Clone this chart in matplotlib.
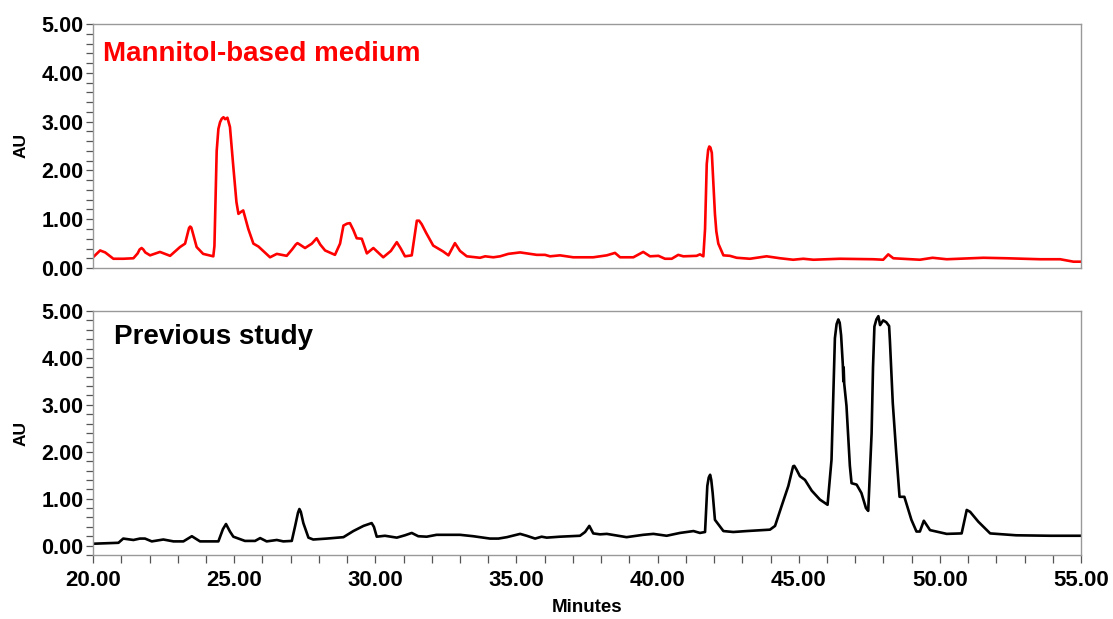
import matplotlib
matplotlib.use('Agg')
import matplotlib.pyplot as plt
from matplotlib.ticker import MultipleLocator, FormatStrFormatter

plt.rcParams['font.family'] = ['Liberation Sans', 'DejaVu Sans']
plt.rcParams['font.weight'] = 'bold'

# 甘露醇培养基 (上图, 红线)
t_mannitol = [20.00, 20.07, 20.25, 20.43, 20.72, 21.07, 21.43, 21.58, 21.65, 21.72,
              21.78, 21.85, 22.02, 22.37, 22.73, 23.08, 23.26, 23.35, 23.40, 23.44,
              23.48, 23.52, 23.67, 23.90, 24.26, 24.30, 24.35, 24.38, 24.44, 24.50,
              24.56, 24.62, 24.68, 24.76, 24.85, 24.97, 25.08, 25.15, 25.24, 25.32,
              25.50, 25.68, 25.86, 26.27, 26.51, 26.86, 27.05, 27.18, 27.24, 27.30,
              27.51, 27.75, 27.92, 28.05, 28.22, 28.57, 28.75, 28.87, 29.00, 29.10,
              29.22, 29.34, 29.52, 29.70, 29.93, 30.28, 30.55, 30.76, 30.90, 31.05,
              31.29, 31.40, 31.47, 31.55, 31.64, 31.80, 32.05, 32.40, 32.59, 32.82,
              33.00, 33.24, 33.71, 33.89, 34.18, 34.42, 34.71, 35.13, 35.72, 36.01,
              36.19, 36.54, 37.01, 37.72, 38.20, 38.49, 38.67, 39.14, 39.49, 39.73,
              40.03, 40.26, 40.50, 40.73, 40.91, 41.38, 41.50, 41.62, 41.68, 41.74,
              41.79, 41.83, 41.87, 41.92, 41.97, 42.03, 42.08, 42.15, 42.33, 42.56,
              42.80, 43.27, 43.86, 44.34, 44.80, 45.16, 45.52, 46.46, 47.64, 47.99,
              48.17, 48.35, 49.29, 49.74, 50.24, 51.54, 52.37, 53.55, 54.26, 54.73,
              55.00]
au_mannitol = [0.22, 0.26, 0.36, 0.32, 0.19, 0.19, 0.20, 0.30, 0.38, 0.41,
               0.38, 0.32, 0.26, 0.33, 0.25, 0.43, 0.50, 0.70, 0.82, 0.85,
               0.83, 0.75, 0.43, 0.29, 0.24, 0.45, 1.70, 2.40, 2.85, 2.99,
               3.06, 3.09, 3.05, 3.08, 2.89, 2.07, 1.35, 1.11, 1.15, 1.18,
               0.80, 0.50, 0.44, 0.22, 0.29, 0.25, 0.38, 0.48, 0.51, 0.49,
               0.41, 0.50, 0.61, 0.48, 0.36, 0.27, 0.50, 0.87, 0.91, 0.92,
               0.78, 0.61, 0.60, 0.30, 0.41, 0.22, 0.35, 0.53, 0.40, 0.24,
               0.26, 0.70, 0.97, 0.97, 0.90, 0.72, 0.46, 0.34, 0.26, 0.51,
               0.35, 0.24, 0.21, 0.24, 0.22, 0.24, 0.29, 0.32, 0.27, 0.27,
               0.24, 0.26, 0.22, 0.22, 0.26, 0.31, 0.22, 0.22, 0.33, 0.24,
               0.25, 0.19, 0.19, 0.27, 0.24, 0.25, 0.28, 0.24, 0.80, 2.13,
               2.42, 2.49, 2.47, 2.36, 1.80, 1.11, 0.75, 0.50, 0.26, 0.25,
               0.21, 0.19, 0.24, 0.20, 0.17, 0.19, 0.17, 0.19, 0.18, 0.17,
               0.28, 0.20, 0.17, 0.21, 0.18, 0.21, 0.20, 0.18, 0.18, 0.13,
               0.13]

# 以往研究 (下图, 黑线)
t_previous = [20.00, 20.90, 21.07, 21.43, 21.66, 21.84, 22.08, 22.49, 22.85, 23.20,
              23.50, 23.79, 24.44, 24.60, 24.71, 24.85, 24.97, 25.15, 25.38, 25.74,
              25.92, 26.15, 26.51, 26.74, 27.04, 27.16, 27.26, 27.31, 27.36, 27.45,
              27.63, 27.80, 28.28, 28.87, 29.22, 29.58, 29.87, 29.95, 30.05, 30.34,
              30.76, 31.05, 31.29, 31.52, 31.82, 32.17, 33.00, 33.47, 34.06, 34.36,
              34.66, 35.13, 35.36, 35.66, 35.89, 36.07, 36.54, 37.25, 37.43, 37.58,
              37.72, 37.96, 38.20, 38.90, 39.49, 39.85, 40.32, 40.79, 41.27, 41.50,
              41.68, 41.76, 41.81, 41.86, 41.90, 41.95, 42.03, 42.33, 42.68, 43.15,
              43.98, 44.16, 44.39, 44.63, 44.80, 44.84, 44.92, 45.04, 45.22, 45.46,
              45.75, 46.02, 46.16, 46.28, 46.34, 46.40, 46.45, 46.50, 46.56, 46.58,
              46.59, 46.61, 46.69, 46.81, 46.87, 47.05, 47.22, 47.38, 47.46, 47.58,
              47.63, 47.68, 47.75, 47.82, 47.88, 47.99, 48.10, 48.20, 48.23, 48.33,
              48.45, 48.57, 48.74, 48.99, 49.17, 49.29, 49.43, 49.65, 50.24, 50.77,
              50.95, 51.07, 51.36, 51.78, 52.70, 53.90, 55.00]
au_previous = [0.04, 0.06, 0.15, 0.12, 0.15, 0.15, 0.09, 0.13, 0.09, 0.09,
               0.20, 0.09, 0.09, 0.35, 0.46, 0.30, 0.19, 0.15, 0.10, 0.10,
               0.16, 0.09, 0.12, 0.09, 0.10, 0.42, 0.70, 0.78, 0.72, 0.48,
               0.17, 0.13, 0.15, 0.18, 0.31, 0.42, 0.48, 0.40, 0.19, 0.21,
               0.17, 0.22, 0.27, 0.20, 0.19, 0.23, 0.23, 0.20, 0.15, 0.15,
               0.18, 0.25, 0.21, 0.15, 0.19, 0.17, 0.19, 0.21, 0.29, 0.42,
               0.26, 0.24, 0.25, 0.18, 0.23, 0.25, 0.21, 0.27, 0.31, 0.27,
               0.29, 1.27, 1.45, 1.51, 1.40, 1.12, 0.55, 0.31, 0.29, 0.31,
               0.34, 0.42, 0.84, 1.27, 1.69, 1.70, 1.62, 1.48, 1.40, 1.17,
               0.98, 0.87, 1.83, 4.42, 4.72, 4.82, 4.75, 4.48, 3.86, 3.50,
               3.80, 3.45, 2.98, 1.70, 1.33, 1.30, 1.12, 0.80, 0.74, 2.39,
               3.80, 4.67, 4.82, 4.89, 4.70, 4.80, 4.76, 4.68, 4.35, 3.04,
               2.00, 1.04, 1.04, 0.55, 0.30, 0.30, 0.53, 0.33, 0.25, 0.26,
               0.76, 0.72, 0.51, 0.26, 0.22, 0.21, 0.21]

fig = plt.figure(figsize=(11.13, 6.19), dpi=100)
ax1 = fig.add_axes([0.0836, 0.567, 0.8877, 0.3942])
ax2 = fig.add_axes([0.0836, 0.1034, 0.8877, 0.3942])

ax1.plot(t_mannitol, au_mannitol, color='#ff0000', lw=1.9,
         solid_joinstyle='round', solid_capstyle='round')
ax2.plot(t_previous, au_previous, color='black', lw=1.9,
         solid_joinstyle='round', solid_capstyle='round')

ax1.set_ylim(0, 5.0)
ax2.set_ylim(-0.2, 5.0)

for ax in (ax1, ax2):
    ax.set_xlim(20, 55)
    ax.yaxis.set_major_locator(MultipleLocator(1.0))
    ax.yaxis.set_minor_locator(MultipleLocator(0.2))
    ax.yaxis.set_major_formatter(FormatStrFormatter('%.2f'))
    ax.tick_params(axis='y', which='both', direction='out', length=5,
                   width=0.9, color='#555555', pad=2, labelsize=15.5)
    for s in ax.spines.values():
        s.set_color('#999999')
        s.set_linewidth(1.0)
    for lab in ax.get_yticklabels():
        lab.set_fontweight('bold')

ax1.tick_params(axis='x', which='both', bottom=False, labelbottom=False)

ax2.xaxis.set_major_locator(MultipleLocator(5))
ax2.xaxis.set_minor_locator(MultipleLocator(1))
ax2.xaxis.set_major_formatter(FormatStrFormatter('%.2f'))
ax2.tick_params(axis='x', which='both', direction='out', length=6,
                width=0.9, color='#555555', pad=5, labelsize=16)
for lab in ax2.get_xticklabels():
    lab.set_fontweight('bold')

# 图内标注
fig.text(103 / 1113, 1 - 61 / 619, 'Mannitol-based medium', color='#ff0000',
         fontsize=20, fontweight='bold', ha='left', va='baseline')
fig.text(114 / 1113, 1 - 344 / 619, 'Previous study', color='black',
         fontsize=20, fontweight='bold', ha='left', va='baseline')

fig.text(21 / 1113, 1 - 146 / 619, 'AU', rotation=90, fontsize=12.5,
         fontweight='bold', ha='center', va='center')
fig.text(21 / 1113, 1 - 433 / 619, 'AU', rotation=90, fontsize=12.5,
         fontweight='bold', ha='center', va='center')
fig.text(587 / 1113, 1 - 607 / 619, 'Minutes', fontsize=13.5,
         fontweight='bold', ha='center', va='center')

plt.savefig('out.png', dpi=100)
plt.close()
